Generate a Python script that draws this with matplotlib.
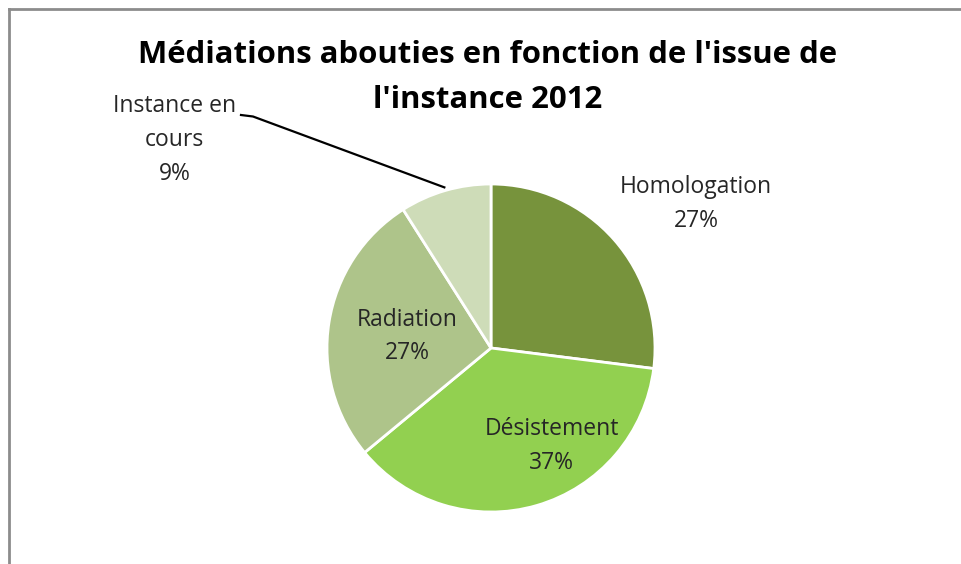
import matplotlib.pyplot as plt
from matplotlib.lines import Line2D
import numpy as np

# data
labels = ['Homologation', 'Désistement', 'Radiation', 'Instance en\ncours']
shares = [27, 37, 27, 9]
colors = ['#77933C', '#92D050', '#AEC48A', '#CEDCB8']
title_lines = ["Médiations abouties en fonction de l'issue de", "l'instance 2012"]

W, H = 961, 564
fig = plt.figure(figsize=(W / 100, H / 100), dpi=100)
ax = fig.add_axes([0, 0, 1, 1])

# pie centre at (491, 348) px, radius 164 px
cx, cy, R = 491, 348, 164

wedges, _ = ax.pie(shares, colors=colors, startangle=90, counterclock=False,
                   wedgeprops=dict(edgecolor='white', linewidth=2))
ax.set_aspect('auto')
ax.set_xlim(-cx / R, (W - cx) / R)
ax.set_ylim(-(H - cy) / R, cy / R)
ax.axis('off')

font = 'Open Sans'
txtcol = '#262626'
# label positions (pie units)
label_pos = [(1.25, 0.88), (0.37, -0.60), (-0.51, 0.07), (-1.93, 1.27)]
for w, lab, s, (lx, ly) in zip(wedges, labels, shares, label_pos):
    ax.text(lx, ly, '%s\n%d%%' % (lab, s), ha='center', va='center',
            fontsize=16.5, family=font, color=txtcol, linespacing=1.55)

# leader line for the small slice
w = wedges[3]
ang = np.deg2rad((w.theta1 + w.theta2) / 2)
ex, ey = np.cos(ang) * 1.02, np.sin(ang) * 1.02
sx, sy = (241 - cx) / R, (cy - 115) / R
ax.plot([sx, sx + 12 / R, ex], [sy, sy - 1.5 / R, ey], color='black', lw=1.6)

# title, one text per line
for line, base in zip(title_lines, [63, 108]):
    fig.text(488 / W, 1 - base / H, line, ha='center', va='baseline', fontsize=22.4,
             fontweight='bold', family=font, color='black')

# chart frame (left and top edges visible)
fig.add_artist(Line2D([8.5 / W, 8.5 / W], [0, 1 - 8.5 / H], color='#8c8c8c', lw=2,
                      transform=fig.transFigure))
fig.add_artist(Line2D([8.5 / W, 1], [1 - 8.5 / H, 1 - 8.5 / H], color='#8c8c8c', lw=2,
                      transform=fig.transFigure))

fig.savefig('out.png', dpi=100)
